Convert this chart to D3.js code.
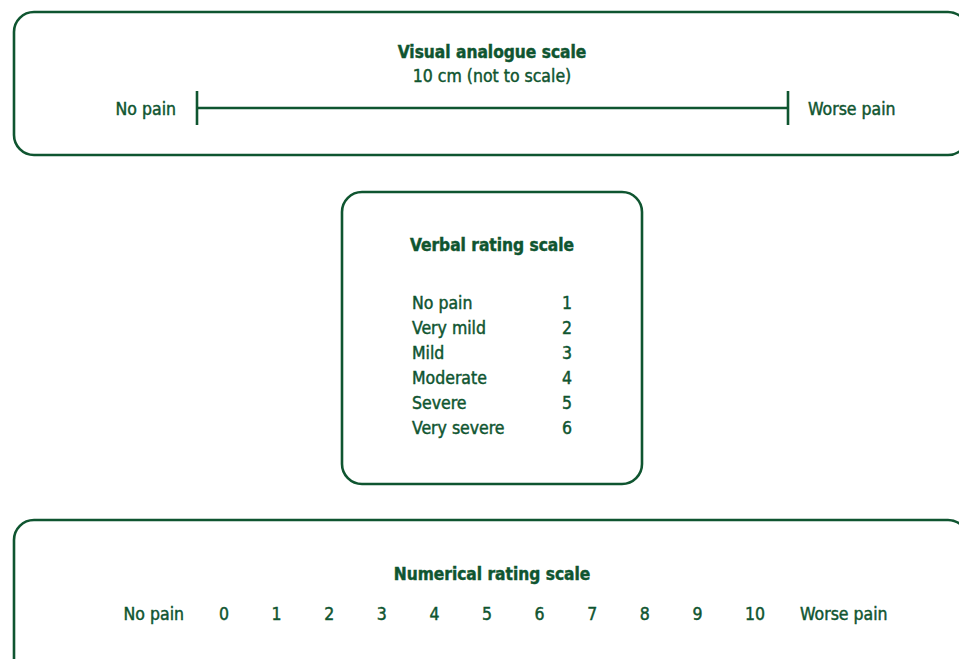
<!DOCTYPE html>
<html>
<head>
<meta charset="utf-8">
<script src="https://cdn.jsdelivr.net/npm/d3@7"></script>
<style>
  html, body { margin: 0; padding: 0; background: #ffffff; overflow: hidden; }
  svg { display: block; }
  text { font-family: "DejaVu Sans Condensed", "Liberation Sans Narrow", "Liberation Sans", sans-serif; fill: #0f5530; stroke: #0f5530; stroke-width: 0.45; }
</style>
</head>
<body>
<script>
// ---- data ----
const vasTitle = "Visual analogue scale";
const vasSubtitle = "10 cm (not to scale)";
const vasEnds = ["No pain", "Worse pain"];
const vasRange = [0, 10]; // cm

const vrsTitle = "Verbal rating scale";
const vrsLabels = ["No pain", "Very mild", "Mild", "Moderate", "Severe", "Very severe"];
const vrsValues = [1, 2, 3, 4, 5, 6];

const nrsTitle = "Numerical rating scale";
const nrsValues = [0, 1, 2, 3, 4, 5, 6, 7, 8, 9, 10];
const nrsEnds = ["No pain", "Worse pain"];

// ---- drawing ----
const W = 959, H = 659;
const green = "#0f5530";
const fs = 17.5, fsTitle = 17.2;
const svg = d3.select("body").append("svg").attr("width", W).attr("height", H);

function box(x, y, w, h) {
  svg.append("rect").attr("x", x).attr("y", y).attr("width", w).attr("height", h)
    .attr("rx", 20).attr("ry", 20)
    .attr("fill", "none").attr("stroke", green).attr("stroke-width", 2.6);
}

// Box 1: VAS
box(14, 12, 954, 143);
svg.append("text").attr("x", 492).attr("y", 58).attr("text-anchor", "middle")
  .attr("font-size", fsTitle).attr("font-weight", "bold").text(vasTitle);
svg.append("text").attr("x", 492).attr("y", 82).attr("text-anchor", "middle")
  .attr("font-size", fs).text(vasSubtitle);

const vasX = d3.scaleLinear().domain(vasRange).range([197, 788]);
const vasY = 108;
svg.append("line").attr("x1", vasX(vasRange[0])).attr("x2", vasX(vasRange[1]))
  .attr("y1", vasY).attr("y2", vasY).attr("stroke", green).attr("stroke-width", 2.4);
svg.selectAll("line.vtick").data(vasRange).join("line").attr("class", "vtick")
  .attr("x1", d => vasX(d)).attr("x2", d => vasX(d))
  .attr("y1", vasY - 17).attr("y2", vasY + 17)
  .attr("stroke", green).attr("stroke-width", 2.6);
svg.append("text").attr("x", vasX(vasRange[0]) - 21).attr("y", vasY + 7)
  .attr("text-anchor", "end").attr("font-size", fs).text(vasEnds[0]);
svg.append("text").attr("x", vasX(vasRange[1]) + 20).attr("y", vasY + 7)
  .attr("text-anchor", "start").attr("font-size", fs).text(vasEnds[1]);

// Box 2: VRS
box(342, 192, 300, 292);
svg.append("text").attr("x", 492).attr("y", 251).attr("text-anchor", "middle")
  .attr("font-size", fsTitle).attr("font-weight", "bold").text(vrsTitle);
const vrsY = d3.scalePoint().domain(vrsValues).range([309, 434]);
const rows = svg.selectAll("g.vrs").data(vrsValues).join("g").attr("class", "vrs");
rows.append("text").attr("x", 412).attr("y", d => vrsY(d))
  .attr("font-size", fs).text((d, i) => vrsLabels[i]);
rows.append("text").attr("x", 567).attr("y", d => vrsY(d)).attr("text-anchor", "middle")
  .attr("font-size", fs).text(d => d);

// Box 3: NRS
box(14, 520, 954, 160);
svg.append("text").attr("x", 492).attr("y", 580).attr("text-anchor", "middle")
  .attr("font-size", fsTitle).attr("font-weight", "bold").text(nrsTitle);
const nrsX = d3.scaleLinear().domain([0, 10]).range([219, 745]);
const nrsY = 620;
svg.selectAll("text.nrs").data(nrsValues).join("text").attr("class", "nrs")
  .attr("x", d => nrsX(d)).attr("y", nrsY).attr("font-size", fs).text(d => d);
svg.append("text").attr("x", nrsX(0) - 35).attr("y", nrsY).attr("text-anchor", "end")
  .attr("font-size", fs).text(nrsEnds[0]);
svg.append("text").attr("x", nrsX(10) + 55).attr("y", nrsY).attr("text-anchor", "start")
  .attr("font-size", fs).text(nrsEnds[1]);
</script>
</body>
</html>
